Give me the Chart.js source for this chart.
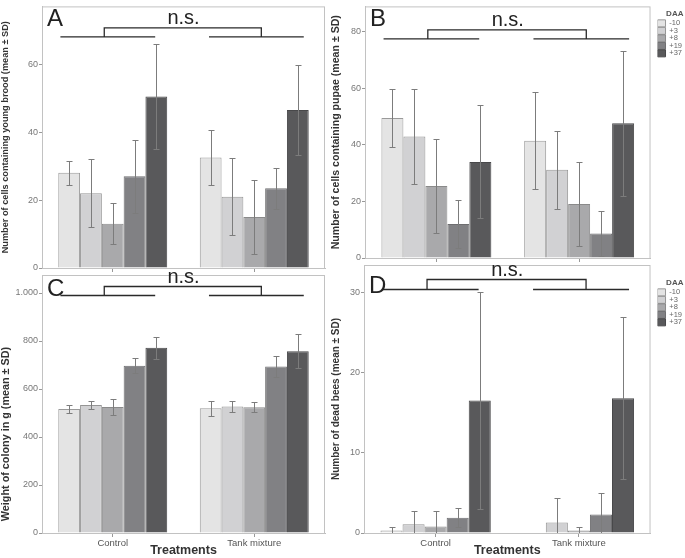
<!DOCTYPE html>
<html>
<head>
  <title>DAA panels</title>
  <script src="https://cdn.jsdelivr.net/npm/chart.js"></script>
  <style>
    body { margin: 0; background: #fff; }
    #wrap { position: relative; width: 685px; height: 558px; }
    canvas { position: absolute; }
  </style>
</head>
<body>
  <div id="wrap">
    <canvas id="chartA" style="left:0px;top:0px" width="345" height="275"></canvas>
    <canvas id="chartB" style="left:330px;top:0px" width="355" height="265"></canvas>
    <canvas id="chartC" style="left:0px;top:262px" width="345" height="296"></canvas>
    <canvas id="chartD" style="left:330px;top:252px" width="355" height="306"></canvas>
  </div>
  <script>
    const treatments = ['Control', 'Tank mixture'];
    const daa = ['-10', '+3', '+8', '+19', '+37'];

    // A: cells with young brood
    const broodCtrl = [28, 22, 13, 27, 50.5];
    const broodCtrlSd = [3.5, 10, 6, 10.7, 15.5];
    const broodTank = [32.5, 21, 15, 23.5, 46.5];
    const broodTankSd = [8, 11.3, 11, 6, 13.3];

    // B: cells with pupae
    const pupaeCtrl = [49.5, 43, 25.5, 12, 34];
    const pupaeCtrlSd = [10.3, 16.8, 16.6, 8.4, 20];
    const pupaeTank = [41.5, 31.2, 19.1, 8.7, 47.7];
    const pupaeTankSd = [17.2, 13.9, 14.8, 8, 25.7];

    // C: colony weight (g)
    const weightCtrl = [517, 533, 525, 697, 772];
    const weightCtrlSd = [16, 18, 35, 31, 45];
    const weightTank = [520, 527, 524, 694, 757];
    const weightTankSd = [31, 23, 20, 42, 71];

    // D: dead bees
    const deadCtrl = [0.3, 1.1, 0.8, 1.9, 16.5];
    const deadCtrlSd = [0.5, 1.7, 1.9, 1.2, 13.5];
    const deadTank = [0, 1.3, 0.3, 2.3, 16.8];
    const deadTankSd = [0, 3, 0.5, 2.7, 10.1];

    const fills = ['#e4e4e4', '#d1d1d3', '#a9a9ab', '#818184', '#59595b'];
    const edges = ['#9a9a9a', '#959595', '#8a8a8a', '#6e6e70', '#48484a'];
    const FONT = 'Arial, "Liberation Sans", sans-serif';

    function makeSets(ctrl, ctrlSd, tank, tankSd) {
      return daa.map((d, i) => ({
        label: d,
        data: [ctrl[i], tank[i]],
        sd: [ctrlSd[i], tankSd[i]],
        backgroundColor: fills[i],
        borderColor: edges[i],
        borderWidth: 1,
        categoryPercentage: 0.77,
        barPercentage: 1
      }));
    }

    // frame around plot, error bars, brackets
    const extras = {
      id: 'extras',
      beforeDatasetsDraw(chart) {
        const a = chart.chartArea, c = chart.ctx;
        c.save();
        c.strokeStyle = '#c2c2c2';
        c.lineWidth = 1;
        c.strokeRect(a.left + 0.5, a.top + 0.5, a.right - a.left - 1, a.bottom - a.top);
        c.restore();
      },
      afterDatasetsDraw(chart, args, opts) {
        const a = chart.chartArea, c = chart.ctx, y = chart.scales.y;
        c.save();
        c.beginPath();
        c.rect(a.left, a.top, a.right - a.left, a.bottom - a.top);
        c.clip();
        c.strokeStyle = '#7c7c7c';
        c.lineWidth = 1;
        chart.data.datasets.forEach((ds, i) => {
          chart.getDatasetMeta(i).data.forEach((bar, j) => {
            const s = ds.sd[j];
            if (!s) return;
            const m = ds.data[j];
            const y1 = Math.round(y.getPixelForValue(m + s)) + 0.5;
            const y2 = Math.round(y.getPixelForValue(m - s)) + 0.5;
            const x = Math.round(bar.x) + 0.5;
            c.beginPath();
            c.moveTo(x, y1); c.lineTo(x, y2);
            c.moveTo(x - 3, y1); c.lineTo(x + 3, y1);
            c.moveTo(x - 3, y2); c.lineTo(x + 3, y2);
            c.stroke();
          });
        });
        c.restore();

        const w = a.right - a.left;
        const X = f => a.left + f * w;
        const ly = a.top + opts.lineDy + 0.5, ty = a.top + opts.topDy + 0.5;
        c.save();
        c.strokeStyle = '#2a2a2a';
        c.lineWidth = 1.3;
        c.beginPath();
        c.moveTo(X(0.065), ly); c.lineTo(X(0.40), ly);
        c.moveTo(X(0.59), ly); c.lineTo(X(0.925), ly);
        c.moveTo(X(0.22), ly); c.lineTo(X(0.22), ty);
        c.lineTo(X(0.775), ty); c.lineTo(X(0.775), ly);
        c.stroke();
        c.fillStyle = '#222';
        c.font = '20px ' + FONT;
        c.textAlign = 'center';
        c.textBaseline = 'alphabetic';
        c.fillText('n.s.', X(0.5), ty - 4);
        c.font = '24px ' + FONT;
        c.textAlign = 'left';
        c.fillText(opts.letter, a.left + 5, a.top + opts.letterDy);
        c.restore();
      }
    };

    function makePanel(id, sets, o) {
      const step = o.step;
      const scales = {
        x: {
          border: { display: true, color: '#bdbdbd' },
          grid: { display: true, drawOnChartArea: false, drawTicks: true, tickLength: 4, color: '#999', offset: false },
          ticks: { display: o.xLabels, color: '#555', padding: 1, font: { family: FONT, size: 9.5 } },
          title: { display: o.xLabels, text: 'Treatments', color: '#333', padding: 0, font: { family: FONT, size: 12.5, weight: 'bold' } },
          afterFit: s => { s.height = o.xHeight; }
        },
        y: {
          min: 0,
          max: o.max,
          border: { display: true, color: '#bdbdbd' },
          grid: { display: true, drawOnChartArea: false, drawTicks: true, tickLength: 3, color: '#999' },
          ticks: {
            stepSize: step,
            color: '#777',
            padding: 1,
            font: { family: FONT, size: 9 },
            callback: v => String(v).replace(/\B(?=(\d{3})+(?!\d))/g, '.')
          },
          afterBuildTicks: s => { s.ticks = s.ticks.filter(t => t.value % step === 0); },
          title: { display: true, text: o.yTitle, color: '#333', padding: 0, font: { family: FONT, size: o.yTitleSize, weight: 'bold' } },
          afterFit: s => { s.width = o.yWidth; }
        }
      };
      if (o.legend) {
        // empty right axis, only a gap between plot frame and legend
        scales.gap = {
          type: 'linear', position: 'right', display: true,
          border: { display: false }, grid: { display: false }, ticks: { display: false },
          afterFit: s => { s.width = 7; }
        };
      }
      return new Chart(document.getElementById(id), {
        type: 'bar',
        data: { labels: treatments, datasets: sets },
        plugins: [extras],
        options: {
          responsive: false,
          animation: false,
          layout: { padding: o.padding },
          plugins: {
            tooltip: { enabled: false },
            extras: o.marks,
            legend: {
              display: o.legend,
              position: 'right',
              align: 'start',
              title: { display: true, text: 'DAA', color: '#555', font: { family: FONT, size: 8, weight: 'bold' }, padding: { top: o.legendTop || 0, bottom: 0 } },
              labels: { boxWidth: 8, boxHeight: 7, padding: 0, color: '#666', font: { family: FONT, size: 7.5 } }
            }
          },
          scales: scales
        }
      });
    }

    makePanel('chartA', makeSets(broodCtrl, broodCtrlSd, broodTank, broodTankSd), {
      max: 77, step: 20, legend: false, xLabels: false, xHeight: 7, yWidth: 42, yTitleSize: 9.2,
      padding: { left: 0, right: 20, top: 2, bottom: 0 },
      yTitle: 'Number of cells containing young brood (mean \u00b1 SD)',
      marks: { letter: 'A', lineDy: 30, topDy: 21, letterDy: 20 }
    });
    makePanel('chartB', makeSets(pupaeCtrl, pupaeCtrlSd, pupaeTank, pupaeTankSd), {
      max: 89, step: 20, legend: true, legendTop: 8, xLabels: false, xHeight: 7, yWidth: 35, yTitleSize: 10.6,
      padding: { left: 0, right: -7, top: 2, bottom: 0 },
      yTitle: 'Number of cells containing pupae (mean \u00b1 SD)',
      marks: { letter: 'B', lineDy: 32, topDy: 23, letterDy: 20 }
    });
    makePanel('chartC', makeSets(weightCtrl, weightCtrlSd, weightTank, weightTankSd), {
      max: 1075, step: 200, legend: false, xLabels: true, xHeight: 25, yWidth: 42, yTitleSize: 10.8,
      padding: { left: 0, right: 20, top: 13, bottom: 0 },
      // trailing spaces push the rotated title down, as in the source figure
      yTitle: 'Weight of colony in g (mean \u00b1 SD)' + '\u00a0'.repeat(20),
      marks: { letter: 'C', lineDy: 20, topDy: 11, letterDy: 21 }
    });
    makePanel('chartD', makeSets(deadCtrl, deadCtrlSd, deadTank, deadTankSd), {
      max: 33.4, step: 10, legend: true, legendTop: 14, xLabels: true, xHeight: 25, yWidth: 34, yTitleSize: 10,
      padding: { left: 0, right: -7, top: 13, bottom: 0 },
      yTitle: 'Number of dead bees (mean \u00b1 SD)',
      marks: { letter: 'D', lineDy: 24, topDy: 14, letterDy: 28 }
    });
  </script>
</body>
</html>
